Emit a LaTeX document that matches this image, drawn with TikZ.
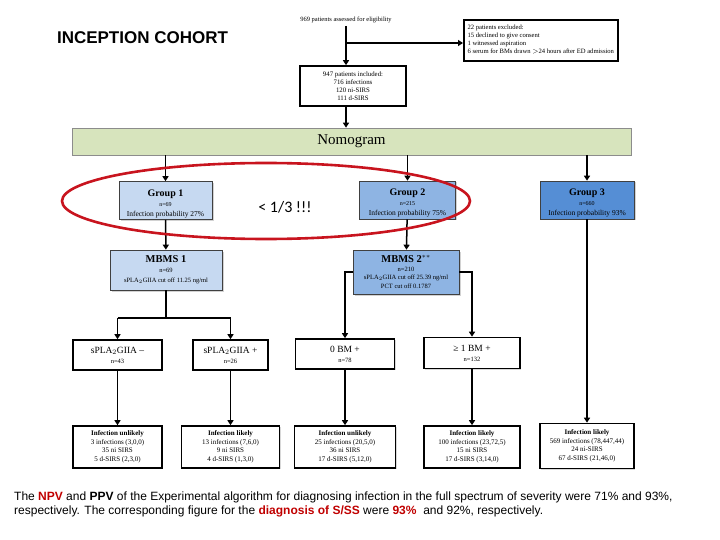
\documentclass[tikz,border=0pt]{standalone}
\usepackage{fontspec}
\setmainfont{Liberation Serif}
\newfontfamily\arialf{Liberation Sans}
\newfontfamily\calib{Carlito}
\usetikzlibrary{arrows.meta,shadows}
\definecolor{nomogreen}{HTML}{D7E4BD}
\definecolor{bluea}{HTML}{C6D9F1}
\definecolor{blueb}{HTML}{8EB4E3}
\definecolor{bluec}{HTML}{558ED5}
\definecolor{capred}{HTML}{C00000}
\definecolor{ellred}{HTML}{C8141E}
\newcommand{\fs}[2]{\fontsize{#1}{#2}\selectfont}
\tikzset{
  wbox/.style={draw=black,line width=1.6pt,fill=white,inner sep=1pt,align=center,
    drop shadow={shadow xshift=1.2pt,shadow yshift=-1.2pt,fill=gray!60}},
  bbox/.style={draw=black!75,line width=0.6pt,inner sep=1pt,align=center,
    drop shadow={shadow xshift=1.5pt,shadow yshift=-1.5pt,fill=gray!70}},
  conn/.style={line width=1.5pt,draw=black},
  arr/.style={conn,-{Triangle[width=6pt,length=5pt]}},
}
\begin{document}
\begin{tikzpicture}[x=1pt,y=-1pt]
\useasboundingbox (0,0) rectangle (720,540);
% title
\node[font=\arialf\bfseries\fs{17}{19}] (title) at (142.5,38) {INCEPTION COHORT};
% top text
\node[font=\fs{6.5}{8},inner sep=0pt] (assessed) at (346,20) {969 patients assessed for eligibility};
\node[wbox,minimum width=154pt,minimum height=41pt,align=left,anchor=north west,inner sep=2pt,font=\fs{6.6}{8}] (excl) at (463,19)
  {\begin{tabular}{@{}l@{}}22 patients excluded:\\15 declined to give consent\\1 witnessed aspiration\\6 serum for BMs drawn $>$24 hours after ED admission\end{tabular}};
\node[wbox,minimum width=106pt,minimum height=40pt,font=\fs{6.8}{8}] (incl) at (353,86)
  {947 patients included:\\716 infections\\120 ni-SIRS\\111 d-SIRS};
\coordinate (br) at (346,43);
\coordinate (as) at (346,26);
\draw[arr] (as) -- (as |- incl.north);
\draw[arr] (br) -- (br -| excl.west);
% nomogram
\node[draw=black!45,line width=0.6pt,fill=nomogreen,minimum width=559pt,minimum height=27pt,
  font=\fs{15}{17},drop shadow={shadow xshift=0pt,shadow yshift=-1.5pt,fill=gray!80}] (nomo) at (351.5,141.5) {Nomogram};
\draw[arr] (incl.south -| as) -- (nomo.north -| as);
% groups
\tikzset{gtxt/.style={bbox,minimum height=38pt},
  glab/.style={align=center,font=\fs{7.5}{10},yshift=-3pt,inner sep=0pt}}
\node[gtxt,fill=bluea,minimum width=93pt,label={[glab]center:{{\bfseries\fs{10}{10}Group 1}\\{\fs{6}{10}n=69}\\Infection probability 27\%}}] (g1) at (165.5,200.5) {};
\node[gtxt,fill=blueb,minimum width=96pt,label={[glab]center:{{\bfseries\fs{10}{10}Group 2}\\{\fs{6}{10}n=215}\\Infection probability 75\%}}] (g2) at (407.5,200) {};
\node[gtxt,fill=bluec,minimum width=94pt,label={[glab]center:{{\bfseries\fs{10}{10}Group 3}\\{\fs{6}{10}n=660}\\Infection probability 93\%}}] (g3) at (587,200) {};
\foreach \g in {g1,g2,g3} \draw[arr] (nomo.south -| \g.north) -- (\g.north);
% MBMS
\node[bbox,fill=bluea,minimum width=112pt,minimum height=40pt,font=\fs{6.5}{10}] (m1) at (166,270)
  {{\bfseries\fs{10.5}{10}MBMS 1}\\n=69\\sPLA$_2$GIIA cut off 11.25 ng/ml};
\node[bbox,fill=blueb,minimum width=106pt,minimum height=44pt,font=\fs{6.5}{8.5}] (m2) at (406,272)
  {{\bfseries\fs{10.5}{10}MBMS 2$^{**}$}\\n=210\\sPLA$_2$GIIA cut off 25.39 ng/ml\\PCT cut off 0.1787};
\draw[arr] (g1) -- (m1);
\draw[arr] (g2) -- (m2);
% level 2
\tikzset{ltxt/.style={wbox,font=\fs{6.5}{10}}}
\node[ltxt,minimum width=89pt,minimum height=30pt] (a) at (117.5,355)
  {{\fs{9.5}{10}sPLA$_2$GIIA –}\\n=43};
\node[ltxt,minimum width=75pt,minimum height=30pt] (b) at (230.5,355)
  {{\fs{9.5}{10}sPLA$_2$GIIA +}\\n=26};
\node[ltxt,minimum width=99pt,minimum height=30pt] (c) at (345,354)
  {{\fs{9.5}{10}0 BM +}\\n=78};
\node[ltxt,minimum width=96pt,minimum height=31pt] (d) at (472,353)
  {{\fs{9.5}{10}≥ 1 BM +}\\n=132};
\coordinate (j1) at (166,318);
\draw[conn] (m1.south) -- (j1);
\draw[conn] (j1 -| a.north) -- (j1 -| b.north);
\draw[arr] (j1 -| a.north) -- (a.north);
\draw[arr] (j1 -| b.north) -- (b.north);
\draw[arr] (m2.west) -| (c.north);
\draw[arr] (m2.east) -| (d.north);
% bottom row
\tikzset{rtxt/.style={wbox,font=\fs{7}{8.5}}}
\node[rtxt,minimum width=89pt,minimum height=42pt] (r1) at (117.5,447)
  {{\bfseries Infection unlikely}\\3 infections (3,0,0)\\35 ni SIRS\\5 d-SIRS (2,3,0)};
\node[rtxt,minimum width=98pt,minimum height=42pt] (r2) at (230.5,447)
  {{\bfseries Infection likely}\\13 infections (7,6,0)\\9 ni SIRS\\4 d-SIRS (1,3,0)};
\node[rtxt,minimum width=101pt,minimum height=42pt] (r3) at (345,447)
  {{\bfseries Infection unlikely}\\25 infections (20,5,0)\\36 ni SIRS\\17 d-SIRS (5,12,0)};
\node[rtxt,minimum width=96pt,minimum height=42pt] (r4) at (472,447)
  {{\bfseries Infection likely}\\100 infections (23,72,5)\\15 ni SIRS\\17 d-SIRS (3,14,0)};
\node[rtxt,minimum width=94pt,minimum height=45pt] (r5) at (587,446)
  {{\bfseries Infection likely}\\569 infections (78,447,44)\\24 ni-SIRS\\67 d-SIRS (21,46,0)};
\draw[arr] (a) -- (r1);
\draw[arr] (b) -- (r2);
\draw[arr] (c.south) -- (c.south |- r3.north);
\draw[arr] (d) -- (r4);
\draw[arr] (g3) -- (r5);
% ellipse and remark
\draw[ellred,line width=2.6pt] (266,201) ellipse [x radius=204, y radius=38];
\node[font=\calib\fs{16}{18}] (remark) at (285,207) {< 1/3 !!!};
% caption
\node[anchor=west,inner sep=0pt,font=\arialf\fs{12}{14}] (cap1) at (14,497)
  {The {\bfseries\color{capred}NPV} and {\bfseries PPV} of the Experimental algorithm for diagnosing infection in the full spectrum of severity were 71\% and 93\%,};
\node[anchor=west,inner sep=0pt,font=\arialf\fs{12}{14}] (cap2) at (14,511)
  {respectively. The corresponding figure for the {\bfseries\color{capred}diagnosis of S/SS} were {\bfseries\color{capred}93\%}\ \ and 92\%, respectively.};
\end{tikzpicture}
\end{document}
